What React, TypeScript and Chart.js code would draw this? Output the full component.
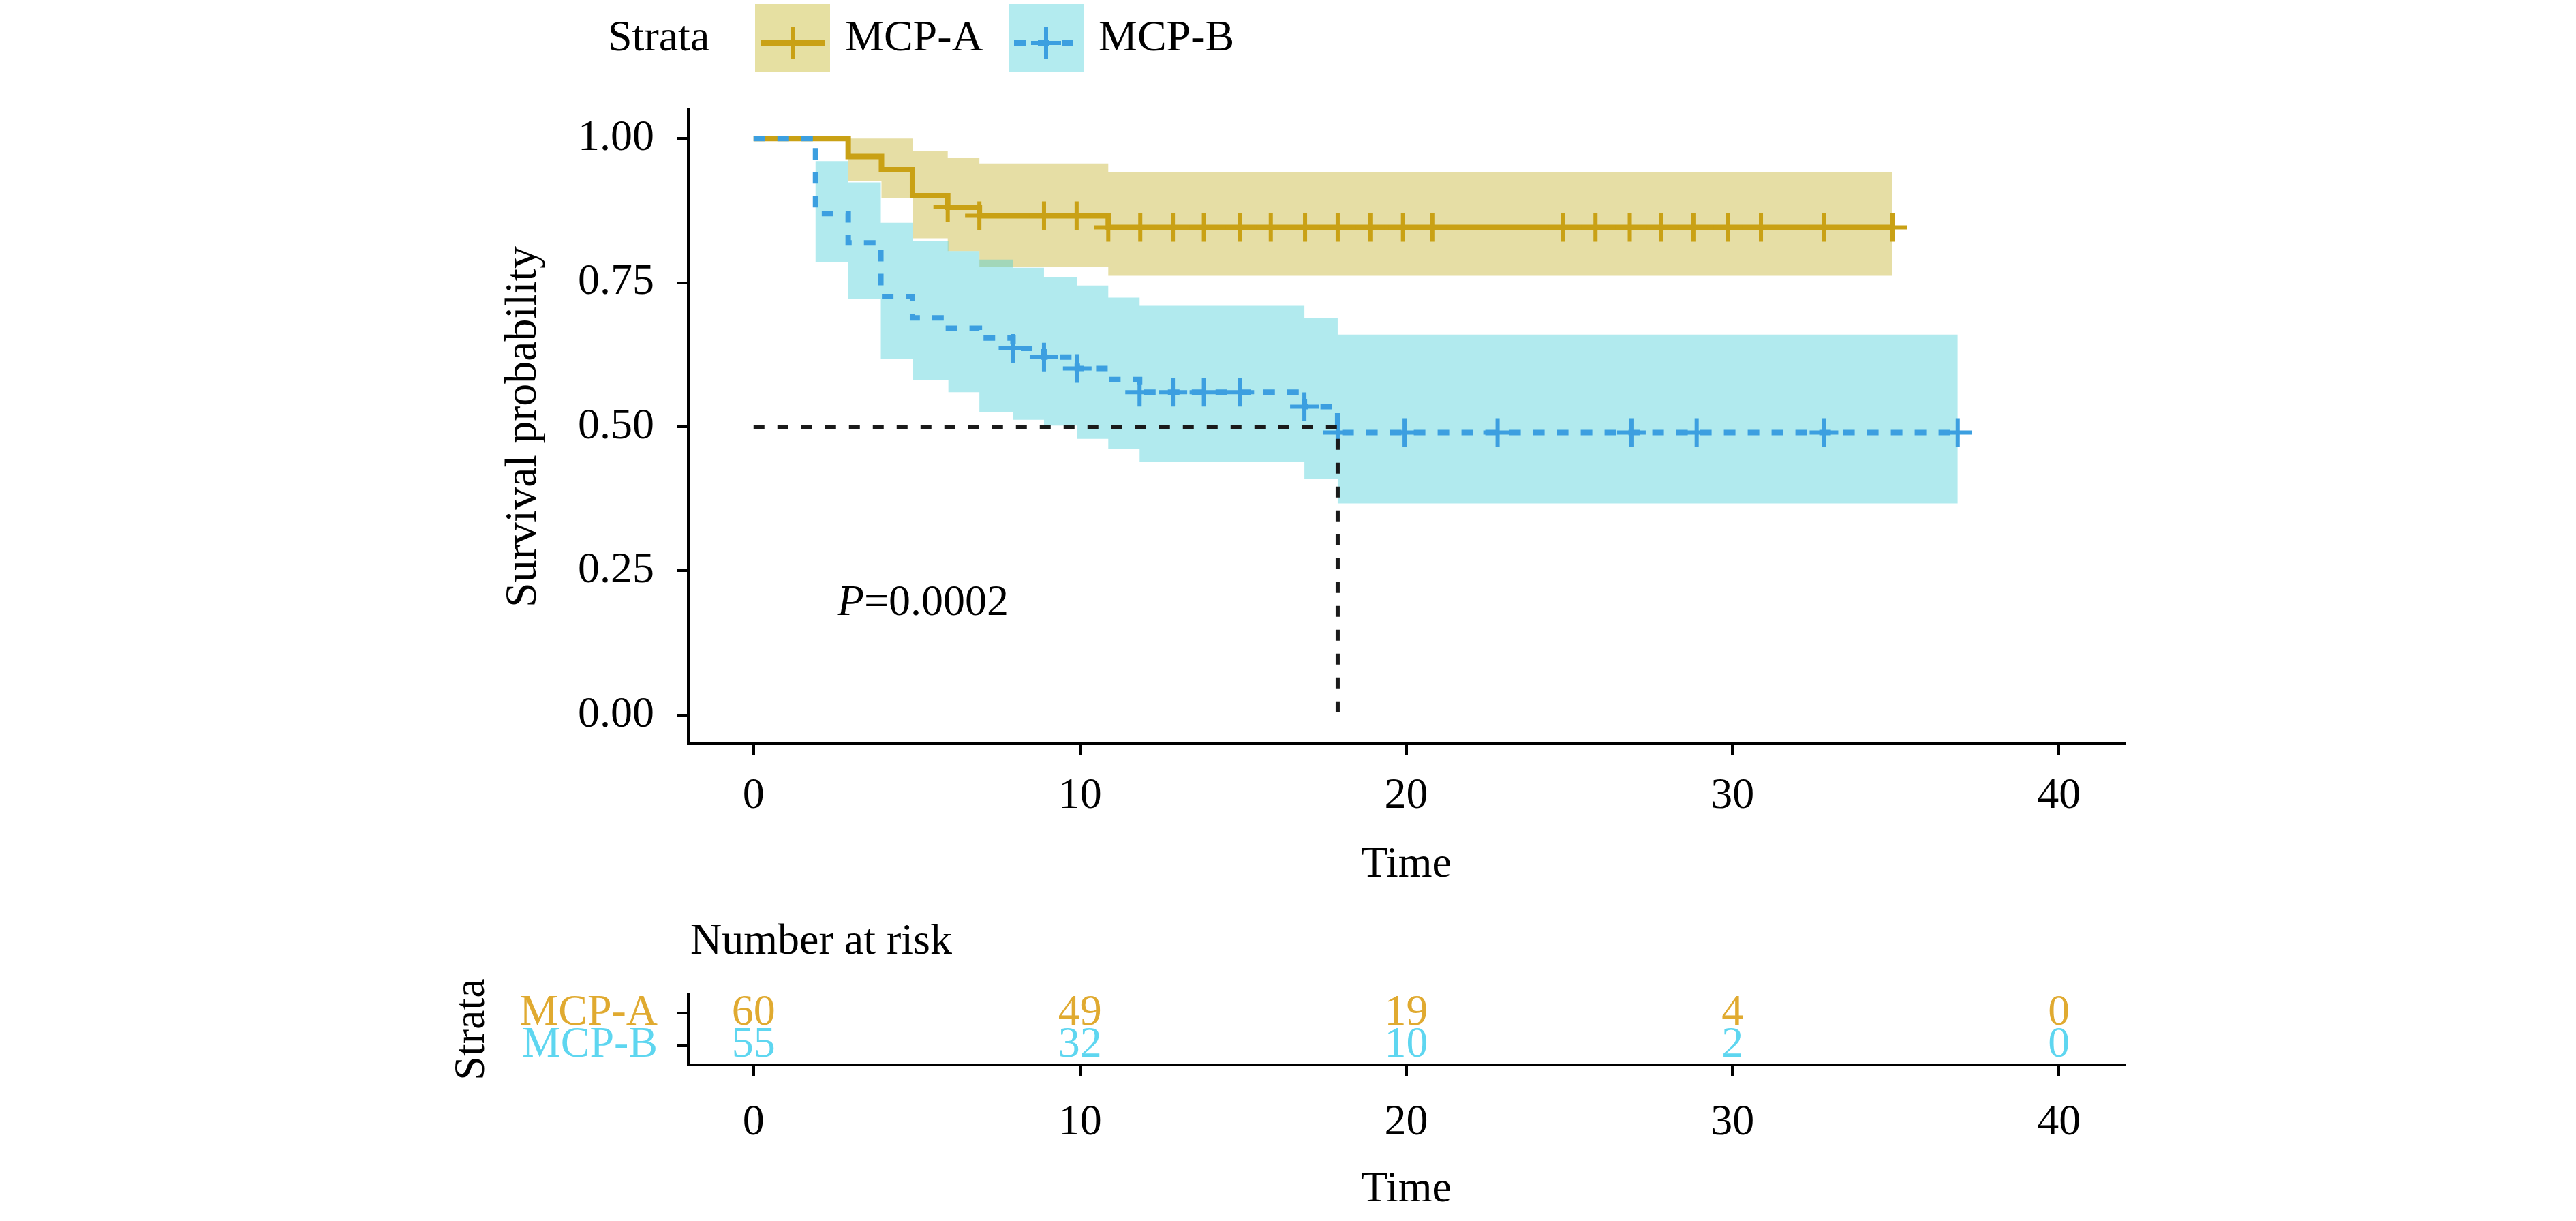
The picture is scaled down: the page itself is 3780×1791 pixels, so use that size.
import React, { useEffect, useRef } from 'react';
import { Chart, registerables } from 'chart.js';

Chart.register(...registerables);

// ---------------- data ----------------
const strata = ['MCP-A', 'MCP-B'];

// MCP-A Kaplan-Meier steps (time, survival after the step) and 95% CI
const timeA = [0, 2.9, 3.92, 4.87, 5.95, 6.92, 10.87, 34.9];
const survA = [1, 0.969, 0.946, 0.901, 0.881, 0.866, 0.846, 0.846];
const upperA = [1, 1, 1, 0.979, 0.966, 0.957, 0.942, 0.942];
const lowerA = [1, 0.926, 0.897, 0.827, 0.805, 0.778, 0.762, 0.762];
const censorA = [5.95, 6.92, 8.9, 9.9, 10.87, 11.85, 12.85, 13.8, 14.9, 15.85, 16.9, 17.9, 18.9, 19.9, 20.8, 24.8, 25.8, 26.85, 27.8, 28.8, 29.85, 30.87, 32.8, 34.9];

// MCP-B
const timeB = [0, 1.9, 2.9, 3.9, 4.87, 5.97, 6.92, 7.95, 8.9, 9.92, 10.87, 11.83, 16.88, 17.9, 36.9];
const survB = [1, 0.87, 0.819, 0.726, 0.689, 0.671, 0.654, 0.636, 0.621, 0.601, 0.582, 0.56, 0.535, 0.49, 0.49];
const upperB = [1, 0.961, 0.924, 0.854, 0.823, 0.805, 0.79, 0.776, 0.759, 0.745, 0.724, 0.71, 0.689, 0.66, 0.66];
const lowerB = [1, 0.786, 0.722, 0.617, 0.581, 0.56, 0.525, 0.512, 0.502, 0.479, 0.461, 0.439, 0.409, 0.367, 0.367];
const censorB = [7.95, 8.9, 9.92, 11.83, 12.85, 13.8, 14.9, 16.88, 17.9, 19.95, 22.8, 26.9, 28.9, 32.8, 36.9];

const medianTime = 17.9;
const medianSurv = 0.5;

const xTicks = [0, 10, 20, 30, 40];
const yTicks = [0, 0.25, 0.5, 0.75, 1];

const riskTimes = [0, 10, 20, 30, 40];
const riskA = [60, 49, 19, 4, 0];
const riskB = [55, 32, 10, 2, 0];
const riskRows = [2, 1]; // row positions of MCP-A, MCP-B

const pLabel = 'P';
const pValue = '=0.0002';
const pPos = { x: 2.57, y: 0.194 };

// ---------------- style ----------------
const FONT = "'Liberation Serif', 'Times New Roman', Times, serif";
const FS = 64;
const W = 3780;
const H1 = 1308;
const H2 = 491;
const TOP2 = 1300;

const GOLD = '#C9A115';
const BLUE = '#3C9FE0';
const GOLD_BAND = 'rgba(196,176,40,0.42)';
const BLUE_BAND = 'rgba(70,205,215,0.42)';
const GOLD_TXT = '#E0AA30';
const BLUE_TXT = '#5ED6F0';
const DASH = [17, 18];

const pts = (t: number[], s: number[]) => t.map((x, i) => ({ x, y: s[i] }));
const survAt = (t: number[], s: number[], c: number) => {
  let v = s[0];
  t.forEach((ti, i) => {
    if (ti <= c + 1e-6) v = s[i];
  });
  return v;
};
const fixedTicks = (values: number[]) => (scale: any) => {
  scale.ticks = values.map((v) => ({ value: v }));
};
const font = { family: FONT, size: FS };
const axisBorder = { display: true, color: '#000', width: 4 };
const axisGrid = {
  display: true,
  drawOnChartArea: false,
  drawTicks: true,
  tickLength: 16,
  tickColor: '#000',
  tickWidth: 4,
  lineWidth: 4,
  color: '#000',
};

const stepLine = (data: any[], color: string, dash: number[], order: number) => ({
  type: 'line',
  data,
  stepped: 'before',
  borderColor: color,
  borderWidth: 8,
  borderDash: dash,
  borderCapStyle: 'butt',
  pointRadius: 0,
  fill: false,
  order,
});

const band = (data: any[], color: string, fill: any, order: number) => ({
  type: 'line',
  data,
  stepped: 'before',
  borderColor: 'rgba(0,0,0,0)',
  borderWidth: 0,
  backgroundColor: color,
  pointRadius: 0,
  fill,
  order,
});

const censors = (t: number[], s: number[], c: number[], color: string, order: number) => ({
  type: 'scatter',
  data: c.map((ci) => ({ x: ci, y: survAt(t, s, ci) })),
  pointStyle: 'cross',
  pointRadius: 21,
  pointBorderWidth: 6,
  borderColor: color,
  backgroundColor: color,
  showLine: false,
  order,
});

const mainPlugin = {
  id: 'kmExtras',
  afterDraw(chart: any) {
    const { ctx } = chart;
    const xs = chart.scales.x;
    const ys = chart.scales.y;
    ctx.save();
    // P value
    ctx.fillStyle = '#000';
    ctx.textBaseline = 'middle';
    ctx.textAlign = 'left';
    const px = xs.getPixelForValue(pPos.x);
    const py = ys.getPixelForValue(pPos.y);
    ctx.font = `italic ${FS}px ${FONT}`;
    ctx.fillText(pLabel, px, py);
    const pw = ctx.measureText(pLabel).width;
    ctx.font = `${FS}px ${FONT}`;
    ctx.fillText(pValue, px + pw, py);

    // legend
    const cy = 57;
    ctx.fillText('Strata', 892, cy);
    const keys = [
      { x: 1108, w: 110, fill: '#E6E0A2', color: GOLD, dash: [] as number[], label: strata[0], tx: 1240 },
      { x: 1480, w: 110, fill: '#B3EBEF', color: BLUE, dash: DASH, label: strata[1], tx: 1612 },
    ];
    keys.forEach((k) => {
      ctx.fillStyle = k.fill;
      ctx.fillRect(k.x, 6, k.w, 100);
      const ly = 63;
      ctx.strokeStyle = k.color;
      ctx.lineWidth = 8;
      ctx.setLineDash(k.dash);
      ctx.beginPath();
      ctx.moveTo(k.x + 8, ly);
      ctx.lineTo(k.x + k.w - 8, ly);
      ctx.stroke();
      ctx.setLineDash([]);
      ctx.lineWidth = 6;
      const cx = k.x + k.w / 2;
      ctx.beginPath();
      ctx.moveTo(cx, ly - 24);
      ctx.lineTo(cx, ly + 24);
      ctx.moveTo(cx - 22, ly);
      ctx.lineTo(cx + 22, ly);
      ctx.stroke();
      ctx.fillStyle = '#000';
      ctx.fillText(k.label, k.tx, cy);
    });
    ctx.restore();
  },
};

function mainConfig(): any {
  return {
    type: 'line',
    data: {
      datasets: [
        {
          type: 'line',
          data: [
            { x: 0, y: medianSurv },
            { x: medianTime, y: medianSurv },
            { x: medianTime, y: 0 },
          ],
          borderColor: '#1a1a1a',
          borderWidth: 6,
          borderDash: [16, 19],
          pointRadius: 0,
          fill: false,
          order: 0,
        },
        censors(timeB, survB, censorB, BLUE, 1),
        stepLine(pts(timeB, survB), BLUE, DASH, 2),
        censors(timeA, survA, censorA, GOLD, 3),
        stepLine(pts(timeA, survA), GOLD, [], 4),
        band(pts(timeB, upperB), BLUE_BAND, '+1', 5),
        band(pts(timeB, lowerB), BLUE_BAND, false, 6),
        band(pts(timeA, upperA), GOLD_BAND, '+1', 7),
        band(pts(timeA, lowerA), GOLD_BAND, false, 8),
      ],
    },
    options: {
      animation: false,
      responsive: false,
      devicePixelRatio: 1,
      layout: { padding: { left: 600, right: 663, top: 161, bottom: 0 } },
      plugins: { legend: { display: false }, tooltip: { enabled: false } },
      scales: {
        x: {
          type: 'linear',
          min: -2,
          max: 42,
          afterBuildTicks: fixedTicks(xTicks),
          afterFit: (s: any) => {
            s.height = H1 - 1091;
          },
          ticks: { font, color: '#000', padding: 23, maxRotation: 0, autoSkip: false, callback: (v: any) => String(v) },
          title: { display: true, text: 'Time', font, color: '#000', padding: { top: 0, bottom: 0 } },
          border: axisBorder,
          grid: axisGrid,
        },
        y: {
          type: 'linear',
          min: -0.05,
          max: 1.05,
          afterBuildTicks: fixedTicks(yTicks),
          afterFit: (s: any) => {
            s.width = 1010 - 600;
          },
          ticks: { font, color: '#000', padding: 34, callback: (v: any) => Number(v).toFixed(2) },
          title: { display: true, text: 'Survival probability', font: { family: FONT, size: 66 }, color: '#000', padding: { top: 129, bottom: 0 } },
          border: axisBorder,
          grid: axisGrid,
        },
      },
    },
    plugins: [mainPlugin],
  };
}

const riskCounts = [riskA, riskB];
const riskColors = [GOLD_TXT, BLUE_TXT];

const riskPlugin = {
  id: 'riskText',
  afterDatasetsDraw(chart: any) {
    const { ctx } = chart;
    ctx.save();
    ctx.font = `${FS}px ${FONT}`;
    ctx.textAlign = 'center';
    ctx.textBaseline = 'middle';
    chart.data.datasets.forEach((_d: any, di: number) => {
      const meta = chart.getDatasetMeta(di);
      ctx.fillStyle = riskColors[di];
      meta.data.forEach((el: any, i: number) => {
        ctx.fillText(String(riskCounts[di][i]), el.x, el.y);
      });
    });
    ctx.textAlign = 'left';
    ctx.fillStyle = '#000';
    ctx.fillText('Number at risk', chart.chartArea.left + 3, 82);
    ctx.restore();
  },
};

function riskConfig(): any {
  return {
    type: 'scatter',
    data: {
      datasets: riskCounts.map((_c, g) => ({
        data: riskTimes.map((t) => ({ x: t, y: riskRows[g] })),
        pointRadius: 0,
        showLine: false,
      })),
    },
    options: {
      animation: false,
      responsive: false,
      devicePixelRatio: 1,
      layout: { padding: { left: 600, right: 663, top: 158, bottom: 0 } },
      plugins: { legend: { display: false }, tooltip: { enabled: false } },
      scales: {
        x: {
          type: 'linear',
          min: -2,
          max: 42,
          afterBuildTicks: fixedTicks(xTicks),
          afterFit: (s: any) => {
            s.height = H2 - 262;
          },
          ticks: { font, color: '#000', padding: 31, maxRotation: 0, autoSkip: false, callback: (v: any) => String(v) },
          title: { display: true, text: 'Time', font, color: '#000', padding: { top: 0, bottom: 7 } },
          border: axisBorder,
          grid: axisGrid,
        },
        y: {
          type: 'linear',
          min: 0.4,
          max: 2.6,
          afterBuildTicks: fixedTicks(riskRows),
          afterFit: (s: any) => {
            s.width = 1010 - 600;
          },
          ticks: {
            font,
            padding: 29,
            color: (c: any) => (c.tick && c.tick.value === riskRows[0] ? GOLD_TXT : BLUE_TXT),
            callback: (v: any) => strata[riskRows.indexOf(Number(v))],
          },
          title: { display: true, text: 'Strata', font, color: '#000', padding: { top: 55, bottom: 0 } },
          border: axisBorder,
          grid: axisGrid,
        },
      },
    },
    plugins: [riskPlugin],
  };
}

export default function App() {
  const ref1 = useRef<HTMLCanvasElement>(null);
  const ref2 = useRef<HTMLCanvasElement>(null);
  useEffect(() => {
    const c1 = new Chart(ref1.current as HTMLCanvasElement, mainConfig());
    const c2 = new Chart(ref2.current as HTMLCanvasElement, riskConfig());
    return () => {
      c1.destroy();
      c2.destroy();
    };
  }, []);
  return (
    <div style={{ position: 'absolute', left: 0, top: 0, width: W, height: 1791, background: '#fff', overflow: 'hidden' }}>
      <canvas ref={ref1} width={W} height={H1} style={{ position: 'absolute', left: 0, top: 0, width: W, height: H1 }} />
      <canvas ref={ref2} width={W} height={H2} style={{ position: 'absolute', left: 0, top: TOP2, width: W, height: H2 }} />
    </div>
  );
}
